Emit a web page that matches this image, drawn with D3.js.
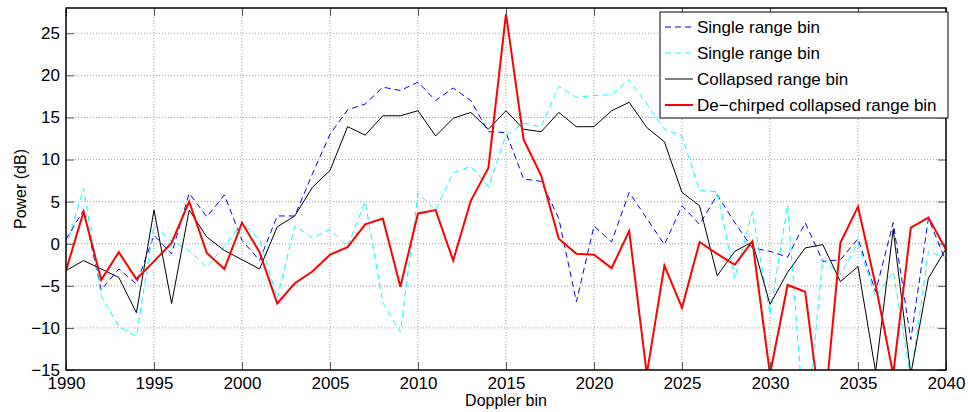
<!DOCTYPE html>
<html>
<head>
<meta charset="utf-8">
<script src="https://cdn.jsdelivr.net/npm/d3@7"></script>
<style>
  body { margin: 0; background: #fff; }
  svg text { font-family: "Liberation Sans", Arial, Helvetica, sans-serif; fill: #000; }
</style>
</head>
<body>
<div id="chart"></div>
<script>
// doppler bins 1990..2040
var bins = d3.range(1990, 2041);

var single_a = [0.5, 4.0, -5.5, -3.0, -4.8, 1.0, -1.2, 6.0, 3.2, 5.8,
    0.4, -2.0, 3.3, 3.3, 8.3, 13.0, 15.9, 16.6, 18.6, 18.2,
    19.2, 17.0, 18.5, 17.0, 13.3, 13.2, 7.7, 7.4, 3.0, -6.9,
    2.1, 0.2, 6.1, 3.0, -0.1, 4.5, 2.3, 5.8, 2.5, -0.5,
    -0.9, -1.6, 2.5, -2.1, -1.9, 0.6, -5.7, 2.5, -11.4, 3.0,
    -2.1];

var single_b = [-0.5, 6.6, -6.2, -9.8, -11.0, 2.2, 0.3, -0.8, -2.8, -0.3,
    2.5, 0.5, -6.5, 2.1, 0.7, 1.7, -0.3, 5.0, -7.0, -10.5,
    6.0, 4.0, 8.4, 9.2, 6.8, 12.9, 14.3, 13.9, 18.7, 17.4,
    17.6, 17.7, 19.5, 16.6, 13.6, 12.8, 6.3, 6.2, -4.1, 3.8,
    -8.4, 4.6, -23.0, -1.9, -3.7, 0.1, -6.3, -3.3, -16.0, -0.9,
    -1.7];

var collapsed = [-3.2, -2.0, -3.0, -4.0, -8.2, 4.0, -7.1, 4.0, 0.8, -0.8,
    -1.9, -3.0, 2.0, 3.3, 6.7, 8.7, 13.9, 12.9, 15.2, 15.2,
    15.8, 12.8, 14.9, 15.6, 13.6, 15.8, 13.6, 13.3, 15.6, 13.9,
    13.9, 15.8, 16.8, 13.8, 12.1, 6.1, 4.5, -3.8, -0.9, 0.2,
    -7.2, -3.4, -0.5, -0.1, -4.5, -2.7, -15.2, 1.7, -15.5, -4.1,
    -0.6];

var dechirped = [-3.2, 3.8, -4.3, -1.0, -4.2, -2.1, 0.1, 5.0, -1.1, -3.0,
    2.5, -1.0, -7.1, -4.7, -3.3, -1.3, -0.4, 2.3, 3.0, -5.1,
    3.6, 4.0, -2.0, 5.1, 9.0, 27.3, 12.4, 8.1, 0.6, -1.2,
    -1.3, -2.9, 1.5, -15.5, -2.6, -7.6, 0.2, -1.2, -2.5, 0.3,
    -15.5, -4.9, -5.7, -22.0, 0.1, 4.4, -4.9, -15.5, 1.9, 3.1,
    -0.7];

var x_ticks = d3.range(1990, 2041, 5);
var y_ticks = d3.range(-15, 26, 5);

var series = [
    { name: "Single range bin", values: single_a, color: "#0000ff", width: 1, dash: "6,4" },
    { name: "Single range bin", values: single_b, color: "#00ffff", width: 1, dash: "6,4" },
    { name: "Collapsed range bin", values: collapsed, color: "#000000", width: 1, dash: null },
    { name: "De\u2212chirped collapsed range bin", values: dechirped, color: "#ff0000", width: 2, dash: null }
];

const margin = { top: 8, right: 22, bottom: 42, left: 66 };
const W = 968, H = 412;
const width = W - margin.left - margin.right;
const height = H - margin.top - margin.bottom;

var svg = d3.select("#chart").append("svg")
    .attr("width", W)
    .attr("height", H);

var canvas = svg.append("g")
    .attr("transform", `translate(${margin.left},${margin.top})`);

var xScale = d3.scaleLinear().domain([1990, 2040]).range([0, width]);
var yScale = d3.scaleLinear().domain([-15, 28]).range([height, 0]);

// grid
canvas.append("g")
    .selectAll("line")
    .data(x_ticks.slice(1, -1))
    .join("line")
    .attr("x1", d => xScale(d)).attr("x2", d => xScale(d))
    .attr("y1", 0).attr("y2", height)
    .attr("stroke", "#a0a0a0")
    .attr("stroke-width", 1)
    .attr("stroke-dasharray", "1,2");

canvas.append("g")
    .selectAll("line")
    .data(y_ticks.slice(1))
    .join("line")
    .attr("x1", 0).attr("x2", width)
    .attr("y1", d => yScale(d)).attr("y2", d => yScale(d))
    .attr("stroke", "#a0a0a0")
    .attr("stroke-width", 1)
    .attr("stroke-dasharray", "1,2");

svg.append("clipPath").attr("id", "plot-clip")
    .append("rect").attr("width", width).attr("height", height);

var line_gen = function (values) {
    return d3.line()
        .x(function (d, i) { return xScale(bins[i]); })
        .y(function (d) { return yScale(d); })(values);
};

var lines = canvas.append("g").attr("clip-path", "url(#plot-clip)");
series.forEach(function (s) {
    lines.append("path")
        .attr("d", line_gen(s.values))
        .attr("fill", "none")
        .attr("stroke", s.color)
        .attr("stroke-width", s.width)
        .attr("stroke-dasharray", s.dash)
        .attr("stroke-linejoin", "miter");
});

// axes, ticks inside
var tl = 8;
var x_axis = canvas.append("g")
    .attr("transform", "translate(0," + height + ")")
    .call(d3.axisBottom(xScale).tickValues(x_ticks).tickSize(-tl).tickPadding(7)
        .tickFormat(d3.format("d")));
var x_axis_top = canvas.append("g")
    .call(d3.axisTop(xScale).tickValues(x_ticks).tickSize(-tl).tickFormat(""));
var y_axis = canvas.append("g")
    .call(d3.axisLeft(yScale).tickValues(y_ticks).tickSize(-tl).tickPadding(6)
        .tickFormat(function (d) { return d < 0 ? "\u2212" + Math.abs(d) : d; }));
var y_axis_right = canvas.append("g")
    .attr("transform", "translate(" + width + ",0)")
    .call(d3.axisRight(yScale).tickValues(y_ticks).tickSize(-tl).tickFormat(""));

[x_axis, x_axis_top, y_axis, y_axis_right].forEach(function (a) {
    a.select(".domain").remove();
    a.selectAll(".tick line").attr("stroke", "#555");
    a.selectAll("text").style("font-size", "17px");
});

canvas.append("rect")
    .attr("width", width).attr("height", height)
    .attr("fill", "none")
    .attr("stroke", "#000")
    .attr("stroke-width", 1.5);

// axis labels
svg.append("text")
    .attr("x", margin.left + width / 2)
    .attr("y", 406)
    .attr("text-anchor", "middle")
    .style("font-size", "16px")
    .text("Doppler bin");

svg.append("text")
    .attr("transform", "translate(26," + (margin.top + height / 2) + ") rotate(-90)")
    .attr("text-anchor", "middle")
    .style("font-size", "16px")
    .text("Power (dB)");

// legend
var legend = svg.append("g").attr("transform", "translate(660,12)");
legend.append("rect")
    .attr("width", 288).attr("height", 106)
    .attr("fill", "#fff")
    .attr("stroke", "#000")
    .attr("stroke-width", 1);

var rows = legend.selectAll("g.row")
    .data(series)
    .join("g")
    .attr("class", "row")
    .attr("transform", function (d, i) { return "translate(0," + (15 + i * 26) + ")"; });

rows.append("line")
    .attr("x1", 5).attr("x2", 33)
    .attr("stroke", d => d.color)
    .attr("stroke-width", d => d.width)
    .attr("stroke-dasharray", d => d.dash);

rows.append("text")
    .attr("x", 37)
    .attr("y", 6)
    .style("font-size", "17px")
    .text(d => d.name);
</script>
</body>
</html>
